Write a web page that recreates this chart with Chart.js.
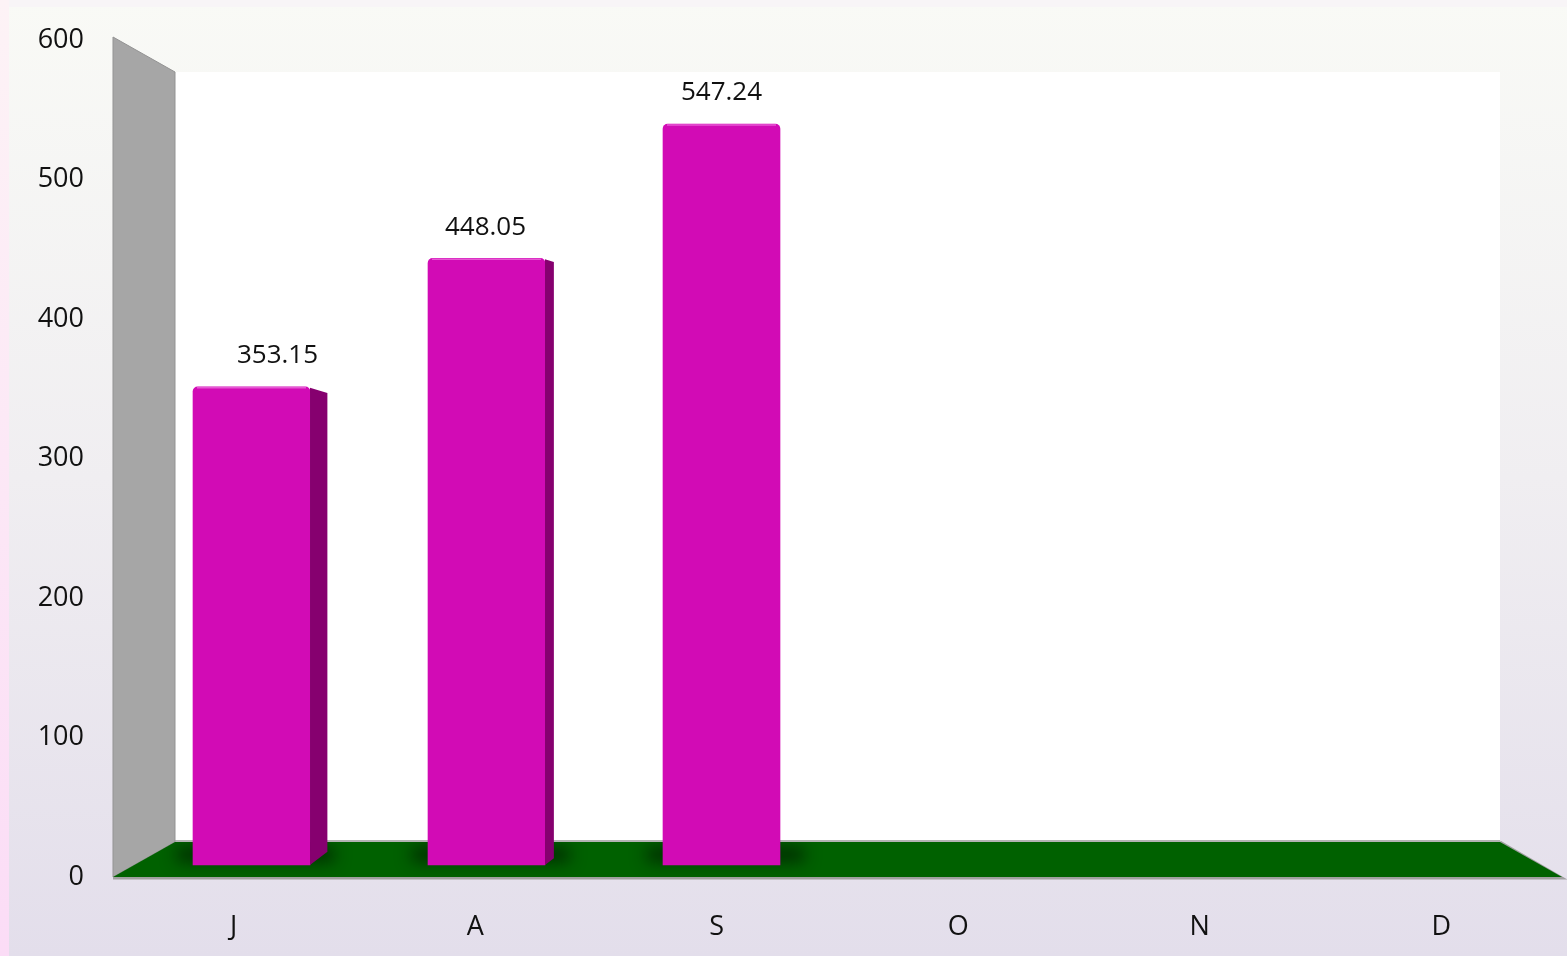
<!DOCTYPE html>
<html><head><meta charset="utf-8">
<script src="https://cdn.jsdelivr.net/npm/chart.js@4.4.0/dist/chart.umd.min.js"></script>
<style>html,body{margin:0;padding:0;overflow:hidden;background:#fff}canvas{display:block}</style>
</head><body><canvas id="c" width="1567" height="956"></canvas>
<script>
const categories = ['J', 'A', 'S', 'O', 'N', 'D'];
const values = [353.15, 448.05, 547.24, null, null, null];
const yTicks = [0, 100, 200, 300, 400, 500, 600];

const DX = 62, DY = 35;            // 3D depth offset of the walls
const labelNudge = [26, -1, 0];    // data label horizontal nudge per bar

function poly(ctx, pts, fill, stroke, lw) {
  ctx.beginPath();
  ctx.moveTo(pts[0][0], pts[0][1]);
  for (let i = 1; i < pts.length; i++) ctx.lineTo(pts[i][0], pts[i][1]);
  ctx.closePath();
  if (fill) { ctx.fillStyle = fill; ctx.fill(); }
  if (stroke) { ctx.strokeStyle = stroke; ctx.lineWidth = lw || 1; ctx.stroke(); }
}

const scene = {
  id: 'scene',
  beforeDraw(chart) {
    const { ctx, width, height } = chart;
    ctx.save();
    const g = ctx.createLinearGradient(0, 0, 0, height);
    g.addColorStop(0, '#f9faf6');
    g.addColorStop(0.5, '#f0eef1');
    g.addColorStop(1, '#e3deeb');
    ctx.fillStyle = g;
    ctx.fillRect(0, 0, width, height);
    ctx.fillStyle = '#f8f5f7';
    ctx.fillRect(0, 0, width, 7);
    const p = ctx.createLinearGradient(0, 0, 0, height);
    p.addColorStop(0, '#fdf3f6');
    p.addColorStop(1, '#fbdcf6');
    ctx.fillStyle = p;
    ctx.fillRect(0, 0, 9, height);
    ctx.restore();
  },
  beforeDatasetsDraw(chart) {
    const ctx = chart.ctx, ca = chart.chartArea, y = chart.scales.y;
    const L = ca.left, R = ca.right;
    const T = y.getPixelForValue(yTicks[yTicks.length - 1]) - 3;
    const B = y.getPixelForValue(0);
    ctx.save();
    // back wall
    ctx.fillStyle = '#ffffff';
    ctx.fillRect(L + DX, T + DY, (R - DX) - (L + DX), (B - DY) - (T + DY));
    // left wall
    poly(ctx, [[L, T], [L + DX, T + DY], [L + DX, B - DY], [L, B]], '#a6a6a6', '#939393', 1);
    // floor
    ctx.strokeStyle = '#9a9a9a'; ctx.lineWidth = 1.5;
    ctx.beginPath(); ctx.moveTo(L + DX, B - DY - 1); ctx.lineTo(R - DX, B - DY - 1); ctx.stroke();
    ctx.strokeStyle = '#a0a0a0'; ctx.lineWidth = 3;
    ctx.beginPath(); ctx.moveTo(L, B + 1); ctx.lineTo(R, B + 1); ctx.lineTo(R - DX, B - DY); ctx.stroke();
    const floor = [[L, B], [L + DX, B - DY], [R - DX, B - DY], [R, B]];
    poly(ctx, floor, '#006100', null);
    // soft shadows under bars, clipped to the floor
    ctx.save();
    poly(ctx, floor, null, null);
    ctx.clip();
    const meta = chart.getDatasetMeta(0);
    meta.data.forEach((bar) => {
      const { x, width, base } = bar.getProps(['x', 'width', 'base'], true);
      ctx.save();
      ctx.shadowColor = 'rgba(0,32,0,0.9)';
      ctx.shadowBlur = 16;
      ctx.shadowOffsetX = 10000;
      ctx.fillStyle = '#000';
      ctx.fillRect(x - width / 2 - 16 - 10000, base - 17, width + 40, 13);
      ctx.restore();
    });
    ctx.restore();
    ctx.restore();
  },
  afterDatasetsDraw(chart) {
    const ctx = chart.ctx;
    const meta = chart.getDatasetMeta(0);
    ctx.save();
    meta.data.forEach((bar, i) => {
      const { x, y, width, base } = bar.getProps(['x', 'y', 'width', 'base'], true);
      const Rx = x + width / 2;
      const w = Math.max(0, (790 - Rx) * 0.0362);
      if (w > 0.5) {
        poly(ctx, [[Rx, y + 1], [Rx + w, y + 1 + w * 0.3], [Rx + w, base - w * 0.76], [Rx, base]], '#86006f', null);
      }
      ctx.strokeStyle = 'rgba(240,120,225,0.7)';
      ctx.lineWidth = 1.5;
      ctx.beginPath(); ctx.moveTo(x - width / 2 + 4, y + 1); ctx.lineTo(Rx - 4, y + 1); ctx.stroke();
      ctx.fillStyle = '#111';
      ctx.font = '26px "Open Sans"';
      ctx.textAlign = 'center';
      ctx.textBaseline = 'middle';
      ctx.fillText(values[i].toFixed(2), x + labelNudge[i], y - 31);
    });
    ctx.restore();
  }
};

const barData = values.map((v, i) => ({ x: i, y: v })).filter(d => d.y !== null);

new Chart(document.getElementById('c'), {
  type: 'bar',
  data: {
    labels: categories,
    datasets: [{
      data: barData,
      xAxisID: 'xBar',
      yAxisID: 'yBar',
      backgroundColor: '#d20bb5',
      borderWidth: 0,
      borderRadius: { topLeft: 5, topRight: 5, bottomLeft: 0, bottomRight: 0 },
      borderSkipped: 'bottom',
      barThickness: 117
    }]
  },
  options: {
    responsive: false,
    devicePixelRatio: 1,
    animation: false,
    layout: { padding: { top: 40, right: 5, bottom: 0, left: 0 } },
    plugins: { legend: { display: false }, tooltip: { enabled: false } },
    scales: {
      x: {
        type: 'category',
        position: 'bottom',
        offset: true,
        grid: { display: false, drawTicks: false, tickLength: 0 },
        border: { display: false },
        ticks: { color: '#111', font: { family: 'Open Sans', size: 27 }, padding: 34, maxRotation: 0 },
        afterFit(s) { s.height = 79; }
      },
      xBar: {
        type: 'linear',
        display: false,
        offset: false,
        grid: { offset: false },
        min: -0.5894,
        max: 5.5766
      },
      y: {
        type: 'linear',
        position: 'left',
        min: 0,
        max: 600,
        afterBuildTicks(s) { s.ticks = yTicks.map(v => ({ value: v })); },
        grid: { display: false, drawTicks: false, tickLength: 0 },
        border: { display: false },
        ticks: { color: '#111', font: { family: 'Open Sans', size: 27, lineHeight: 0.8 }, padding: 29 },
        afterFit(s) { s.width = 113; }
      },
      yBar: {
        type: 'linear',
        display: false,
        min: -8.9,
        max: 609.3
      }
    }
  },
  plugins: [scene]
});
</script>
</body></html>
